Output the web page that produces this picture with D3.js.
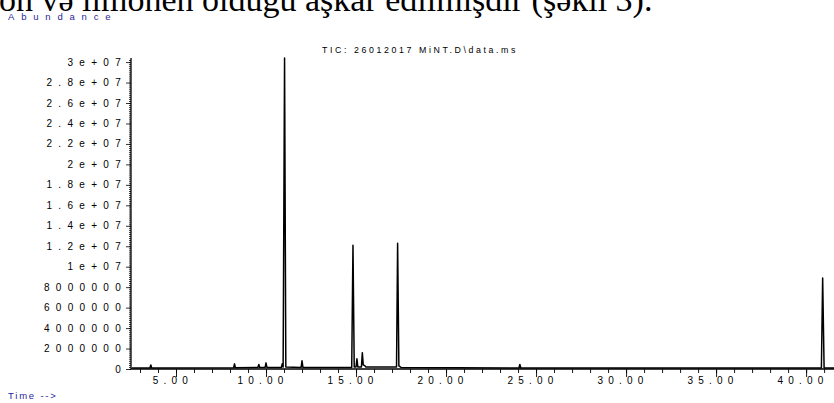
<!DOCTYPE html>
<html>
<head>
<meta charset="utf-8">
<script src="https://cdn.jsdelivr.net/npm/d3@7"></script>
<style>
  html, body { margin: 0; padding: 0; background: #fff; }
  svg { display: block; font-family: "Liberation Sans", Arial, sans-serif; }
</style>
</head>
<body>
<div id="chart"></div>
<script>
// retention time (min) and abundance of the TIC trace
const times = [2.55, 3.55, 3.6, 3.65, 8.2, 8.25, 8.3, 9.55, 9.6, 9.65, 9.95, 10.0, 10.05,
  10.85, 10.9, 10.95, 11.03, 11.1, 11.95, 12.0, 12.05, 14.76, 14.83, 14.9, 15.0, 15.05, 15.1,
  15.3, 15.35, 15.4, 15.5, 15.55, 17.25, 17.31, 17.38, 17.5, 24.05, 24.1, 24.15, 40.85, 40.92,
  41.0, 41.55]
const abundance = [1e5, 1e5, 4e5, 1e5, 1.2e5, 5e5, 1.2e5, 1.5e5, 4.5e5, 1.5e5, 1.5e5, 6e5, 1.5e5,
  1.5e5, 5e5, 2e5, 3.04e7, 2e5, 1.5e5, 8e5, 1.5e5, 1.5e5, 1.21e7, 2e5, 2e5, 1.0e6, 2e5,
  2e5, 1.6e6, 4e5, 3e5, 2e5, 2e5, 1.23e7, 3e5, 1.5e5, 1e5, 4.5e5, 1e5, 1e5, 8.9e6,
  1e5, 1e5]

const yTickValues = [0, 2e6, 4e6, 6e6, 8e6, 1e7, 1.2e7, 1.4e7, 1.6e7, 1.8e7, 2e7, 2.2e7, 2.4e7, 2.6e7, 2.8e7, 3e7]
const yTickLabels = ['0', '2000000', '4000000', '6000000', '8000000', '1e+07', '1.2e+07', '1.4e+07',
  '1.6e+07', '1.8e+07', '2e+07', '2.2e+07', '2.4e+07', '2.6e+07', '2.8e+07', '3e+07']
const xTickValues = [5, 10, 15, 20, 25, 30, 35, 40]
const xTickLabels = ['5.00', '10.00', '15.00', '20.00', '25.00', '30.00', '35.00', '40.00']

const title = 'TIC: 26012017 MiNT.D\\data.ms'
const bodyText = 'on və limonen olduğu aşkar edilmişdir (şəkil 3).'

const svg = d3.select('#chart').append('svg')
  .attr('width', 834)
  .attr('height', 403)

svg.append('rect').attr('width', 834).attr('height', 403).attr('fill', '#fff')

const x = d3.scaleLinear().domain([2.5, 41.55]).range([131, 834])
const y = d3.scaleLinear().domain([0, 3.04e7]).range([369, 58])

// page text above the figure, cut off at the top
svg.append('text')
  .attr('x', -1).attr('y', 11)
  .attr('font-family', '"Liberation Serif", "Times New Roman", serif')
  .attr('font-size', 34)
  .attr('fill', '#000')
  .text(bodyText)

const blue = '#1f1f9a'
svg.append('text')
  .attr('x', 8).attr('y', 20)
  .attr('font-size', 9.5)
  .attr('letter-spacing', 6.8)
  .attr('fill', blue)
  .text('Abundance')
svg.append('text')
  .attr('x', 8).attr('y', 399)
  .attr('font-size', 9.5)
  .attr('letter-spacing', 1.8)
  .attr('fill', blue)
  .text('Time -->')

svg.append('text')
  .attr('x', 322).attr('y', 53)
  .attr('font-size', 8.8)
  .attr('letter-spacing', 2.6)
  .attr('fill', '#000')
  .text(title)

// y axis: ruler-like minor ticks, major ticks with spaced labels
const yAxis = svg.append('g')
yAxis.append('g')
  .attr('transform', 'translate(131,0)')
  .call(d3.axisLeft(y).tickValues(d3.range(0, 3.04e7, 2e5)).tickSize(2).tickFormat(''))
yAxis.append('g')
  .attr('transform', 'translate(131,0)')
  .call(d3.axisLeft(y).tickValues(yTickValues).tickSize(5).tickFormat(''))
yAxis.selectAll('.domain').remove()
yAxis.selectAll('line').attr('stroke', '#000').attr('stroke-width', 0.8)
yAxis.append('g').selectAll('text')
  .data(yTickValues)
  .enter().append('text')
  .attr('x', 127)
  .attr('y', d => y(d))
  .attr('dy', '0.35em')
  .attr('text-anchor', 'end')
  .attr('font-size', 10)
  .attr('letter-spacing', 6.3)
  .attr('fill', '#000')
  .text((d, i) => yTickLabels[i])

// x axis: minute ticks, bigger ticks every five
const xAxis = svg.append('g').attr('transform', 'translate(0,369)')
xAxis.append('g')
  .call(d3.axisBottom(x).tickValues(d3.range(3, 42, 1)).tickSize(4).tickFormat(''))
xAxis.append('g')
  .call(d3.axisBottom(x).tickValues(xTickValues).tickSize(8).tickFormat(''))
xAxis.selectAll('.domain').remove()
xAxis.selectAll('line').attr('stroke', '#000').attr('stroke-width', 0.9)
xAxis.append('g').selectAll('text')
  .data(xTickValues)
  .enter().append('text')
  .attr('x', d => x(d) - 3)
  .attr('y', 15)
  .attr('text-anchor', 'middle')
  .attr('font-size', 10)
  .attr('letter-spacing', 5.2)
  .attr('fill', '#000')
  .text((d, i) => xTickLabels[i])

svg.append('line')
  .attr('x1', 131).attr('x2', 834)
  .attr('y1', 369).attr('y2', 369)
  .attr('stroke', '#000').attr('stroke-width', 1.3)
svg.append('line')
  .attr('x1', 131).attr('x2', 131)
  .attr('y1', 58).attr('y2', 369)
  .attr('stroke', '#000').attr('stroke-width', 1.3)

// the chromatogram
const trace = times.map((t, i) => [t, abundance[i]])
svg.append('path')
  .datum(trace)
  .attr('fill', 'none')
  .attr('stroke', '#000')
  .attr('stroke-width', 1.5)
  .attr('stroke-linejoin', 'round')
  .attr('d', d3.line().x(d => x(d[0])).y(d => y(d[1])))
</script>
</body>
</html>
